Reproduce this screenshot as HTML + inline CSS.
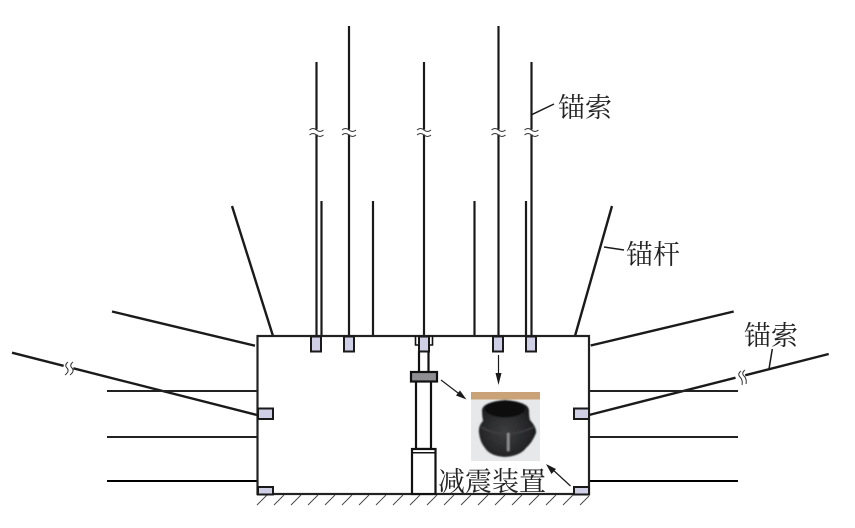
<!DOCTYPE html>
<html>
<head>
<meta charset="utf-8">
<style>
html,body{margin:0;padding:0;background:#fff;width:855px;height:528px;overflow:hidden}
svg{display:block}
text{font-family:"Liberation Serif","Noto Serif CJK SC",serif;fill:#222;font-size:27px}
</style>
</head>
<body>
<svg width="855" height="528" viewBox="0 0 855 528" xmlns="http://www.w3.org/2000/svg">
<defs>
<radialGradient id="pot" cx="45%" cy="55%" r="60%">
<stop offset="0" stop-color="#3c3d3f"/><stop offset="0.7" stop-color="#252628"/><stop offset="1" stop-color="#151516"/>
</radialGradient>
<filter id="soft"><feGaussianBlur stdDeviation="0.7"/></filter>
<path id="brk" d="M-7 -1 q3.5 -3 7 0 t7 0 M-7 4 q3.5 -3 7 0 t7 0" fill="none" stroke="#333" stroke-width="1"/>
</defs>

<!-- Vertical anchor cables -->
<g stroke="#1a1a1a" stroke-width="2.2" fill="none">
<path d="M316.5 62V336M349 26V336M424 62V336M498.5 26V336M531.5 62V336"/>
<path d="M321.5 201V336M373 201V336M474.5 201V336M526 201V336"/>
<path d="M232 206L273 336M612 206L575 336" stroke-width="2.4"/>
<path d="M112 311.5L255 345.7M733.7 311.5L590.7 345.5" stroke-width="2.4"/>
<path d="M12 352.7L257 415M828.7 354L589 415" stroke-width="2.4"/>
<path d="M107 391H257M107 437H257M589 391H738M589 437H738" stroke="#222" stroke-width="2"/>
<path d="M107 481H257M589 481H738" stroke="#000" stroke-width="2"/>
</g>

<!-- Breaks -->
<g>
<rect x="309" y="129.5" width="15" height="5" fill="#fff"/>
<rect x="341.5" y="129.5" width="15" height="5" fill="#fff"/>
<rect x="416.5" y="129.5" width="15" height="5" fill="#fff"/>
<rect x="491" y="129.5" width="15" height="5" fill="#fff"/>
<rect x="524" y="129.5" width="15" height="5" fill="#fff"/>
<use href="#brk" x="316.5" y="131"/>
<use href="#brk" x="349" y="131"/>
<use href="#brk" x="424" y="131"/>
<use href="#brk" x="498.5" y="131"/>
<use href="#brk" x="531.5" y="131"/>
<rect x="63" y="362" width="10" height="14" fill="#fff" transform="rotate(14 68 369)"/>
<rect x="736" y="372" width="10" height="14" fill="#fff" transform="rotate(-14 741 379)"/>
<path d="M68 362q-4 3 -1 6t-2 7M73 362q-4 3 -1 6t-2 7" fill="none" stroke="#333" stroke-width="1"/>
<path d="M741 371q-4 3 -1 6t2 8M745 370q-4 3 -1 6t2 8" fill="none" stroke="#333" stroke-width="1"/>
</g>

<!-- Main box -->
<rect x="257.5" y="336" width="331.5" height="158" fill="#fff" stroke="#222" stroke-width="2.2"/>

<!-- Hatching -->
<g stroke="#444" stroke-width="0.9">
<path d="M257 505l10-10M274 505l10-10M291 505l10-10M308 505l10-10M325 505l10-10M342 505l10-10M359 505l10-10M376 505l10-10M393 505l10-10M410 505l10-10M427 505l10-10M444 505l10-10M461 505l10-10M478 505l10-10M495 505l10-10M512 505l10-10M529 505l10-10M546 505l10-10M563 505l10-10M580 505l9-9"/>
</g>

<!-- Column -->
<g stroke="#111" stroke-width="2.2" fill="#fff">
<path d="M415.5 336V345H432.5V336" fill="none" stroke-width="1.6"/>
<path d="M419 351V372M428.5 351V372" fill="none"/>
<rect x="416" y="381" width="15" height="68"/>
<rect x="412" y="449" width="23.5" height="45"/>
<path d="M412 452.8H435.5" fill="none" stroke-width="1.5"/>
<rect x="411" y="372" width="26" height="9.5" fill="#8f8f93"/>
</g>

<!-- Plates -->
<g fill="#cfcfe6" stroke="#1a1a1a" stroke-width="2">
<rect x="311" y="336.5" width="10" height="15"/>
<rect x="344" y="336.5" width="10" height="15"/>
<rect x="419" y="336.5" width="10" height="15"/>
<rect x="493" y="336.5" width="10" height="15"/>
<rect x="526" y="336.5" width="10" height="15"/>
<rect x="258" y="408.5" width="15" height="10.5"/>
<rect x="574" y="408.5" width="15" height="10.5"/>
<rect x="258" y="487" width="15" height="7.5"/>
<rect x="574" y="487" width="15" height="7.5"/>
</g>

<!-- Photo -->
<g>
<rect x="471" y="392" width="69" height="69" fill="#e6e8ea"/>
<rect x="471" y="392" width="69" height="7.5" fill="#c9a377"/>
<g filter="url(#soft)">
<path d="M482 410Q483 402 505 400Q528 402 529 410Q529 417 530 420Q537 428 536 433Q532 443 526 448Q520 456 505 457Q490 456 485 448Q480 442 479 433Q478 426 483 421Q482 416 482 410Z" fill="url(#pot)"/>
<ellipse cx="505" cy="409" rx="20" ry="8.5" fill="#0d0e10"/>
<path d="M481 427Q505 441 534 427" fill="none" stroke="#3f4042" stroke-width="1.5"/>
<rect x="507" y="433" width="2.5" height="18" fill="#8d8e90"/>
</g>
</g>

<!-- Arrows -->
<g stroke="#1a1a1a" stroke-width="1.2" fill="#1a1a1a">
<path d="M441 380L462 396" fill="none"/>
<path d="M466.5 399.5L456 395.5L460 390.5Z" stroke="none"/>
<path d="M498.5 355V378" fill="none"/>
<path d="M498.5 385L495.5 373H501.5Z" stroke="none"/>
<path d="M570.5 486L551 468" fill="none"/>
<path d="M546 464L556 469L551.5 474Z" stroke="none"/>
<path d="M531.7 114.7L554 104" fill="none" stroke-width="1.5"/>
<path d="M604 247L624 250" fill="none" stroke-width="1.5"/>
<path d="M769 369L772.3 349" fill="none" stroke-width="1.5"/>
</g>

<!-- Labels -->
<text x="558" y="117" textLength="54" lengthAdjust="spacingAndGlyphs">锚索</text>
<text x="626" y="264" textLength="54" lengthAdjust="spacingAndGlyphs">锚杆</text>
<text x="744" y="345" textLength="54" lengthAdjust="spacingAndGlyphs">锚索</text>
<text x="438" y="491" textLength="108" lengthAdjust="spacingAndGlyphs">减震装置</text>
</svg>
</body>
</html>
